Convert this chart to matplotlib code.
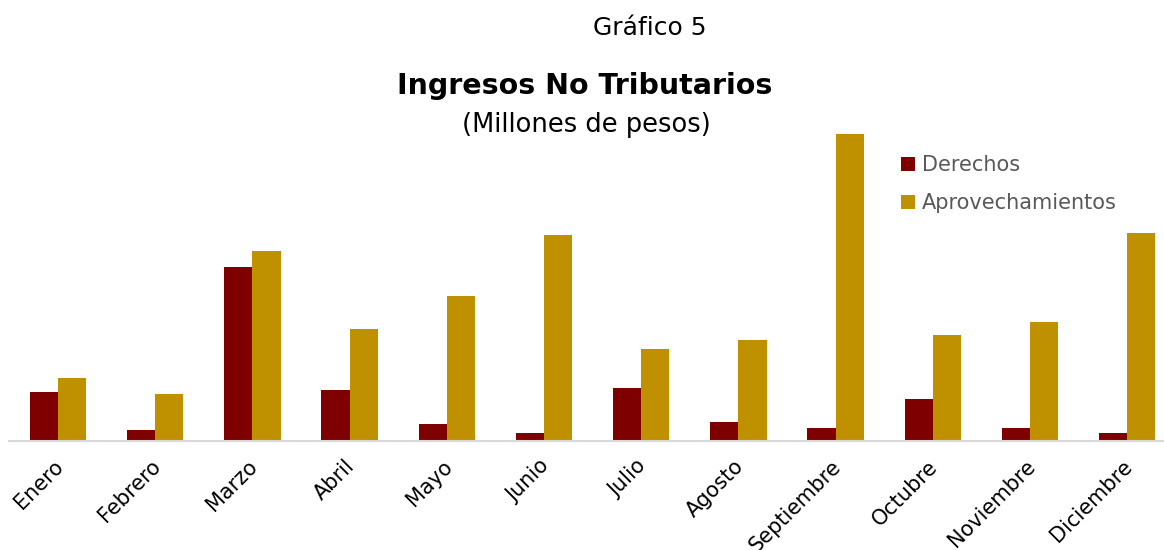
import numpy as np
import matplotlib.pyplot as plt
import matplotlib.transforms as mtransforms

# Ingresos no tributarios por mes (valores estimados de la imagen)
meses = ["Enero", "Febrero", "Marzo", "Abril", "Mayo", "Junio", "Julio",
         "Agosto", "Septiembre", "Octubre", "Noviembre", "Diciembre"]
derechos = [49, 11, 174, 51, 17, 8, 53, 19, 13, 42, 13, 8]
aprovechamientos = [63, 47, 190, 112, 145, 206, 92, 101, 307, 106, 119, 208]

color_der = "#7F0000"
color_apr = "#BF9000"

W, H = 1164, 550
fig = plt.figure(figsize=(W / 100, H / 100), dpi=100)

# axes in pixel coordinates: baseline at y=441, left edge ~9
left, bottom_px, top_px = 9.4, 441, 120
ax = fig.add_axes([left / W, (H - bottom_px) / H, (W - left) / W, (bottom_px - top_px) / H])

x = np.arange(len(meses))
w = 0.29
ax.bar(x - w / 2, derechos, w, color=color_der, label="Derechos")
ax.bar(x + w / 2, aprovechamientos, w, color=color_apr, label="Aprovechamientos")

ax.set_xlim(-0.5, (W - 58) / 97.2)
ax.set_ylim(0, bottom_px - top_px)

for s in ["top", "right", "left"]:
    ax.spines[s].set_visible(False)
ax.spines["bottom"].set_color("#D9D9D9")
ax.spines["bottom"].set_linewidth(1.5)
ax.set_yticks([])
ax.set_xticks(x)
ax.set_xticklabels(meses, rotation=45, ha="right", rotation_mode="anchor",
                   fontsize=15, color="black")
ax.tick_params(axis="x", length=0, pad=11)
shift = mtransforms.ScaledTranslation(-5 / 100, 0, fig.dpi_scale_trans)
for lab in ax.get_xticklabels():
    lab.set_transform(lab.get_transform() + shift)

fig.text(650 / W, 1 - 28 / H, "Gráfico 5", ha="center", va="center", fontsize=18)
fig.text(585 / W, 1 - 86 / H, "Ingresos No Tributarios", ha="center", va="center",
         fontsize=20.5, fontweight="bold")
fig.text(586 / W, 1 - 125 / H, "(Millones de pesos)", ha="center", va="center",
         fontsize=18.5)

leg = ax.legend(loc="upper left", bbox_to_anchor=(893 / W, 1 - 147 / H),
                bbox_transform=fig.transFigure, frameon=False, fontsize=15,
                handlelength=0.65, handleheight=0.65, handletextpad=0.35,
                labelspacing=0.85, borderaxespad=0)
for t in leg.get_texts():
    t.set_color("#595959")

fig.savefig("out.png", dpi=100)
